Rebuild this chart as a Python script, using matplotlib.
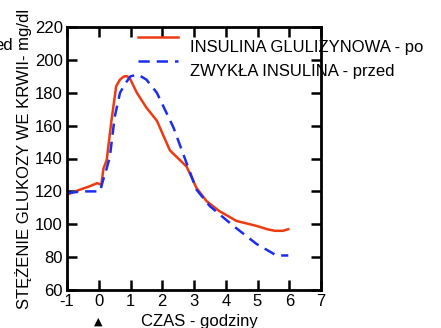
import matplotlib
matplotlib.use("Agg")
import matplotlib.pyplot as plt

plt.rcParams['font.family'] = ['Liberation Sans', 'DejaVu Sans']
plt.rcParams['axes.unicode_minus'] = False

# glucose curves (mg/dl) vs time (hours)
glulisine_t = [-1.0, -0.6, -0.3, -0.05, 0.08, 0.15, 0.25, 0.4, 0.55, 0.67, 0.8, 0.9, 1.0, 1.2, 1.5, 1.83, 2.24, 2.77, 3.08, 3.4, 3.8, 4.34, 4.97, 5.3, 5.55, 5.8, 5.97]
glulisine_y = [118, 121, 123, 125, 124, 134, 139, 163, 184, 188, 190, 190, 188, 180, 171, 163, 145, 135, 122, 114, 108, 102, 99, 97, 96, 96, 97]
regular_t = [-1.0, -0.5, -0.2, 0.04, 0.14, 0.25, 0.35, 0.5, 0.67, 0.85, 1.0, 1.24, 1.5, 1.83, 2.35, 2.77, 3.08, 3.5, 4.24, 4.97, 5.6, 5.97]
regular_y = [119, 120, 120, 120, 127, 134, 141, 165, 180, 186, 190, 191, 188, 180, 159, 137, 121, 111, 99, 88, 81, 81]

xticks = [-1, 0, 1, 2, 3, 4, 5, 6, 7]
yticks = [60, 80, 100, 120, 140, 160, 180, 200, 220]

fig = plt.figure(figsize=(4.41, 3.28), dpi=100)
ax = fig.add_axes([67/441, 1-290/328, (321-67)/441, (290-27)/328])

ax.plot(glulisine_t, glulisine_y, color='#ee3a10', lw=1.8,
        label='INSULINA GLULIZYNOWA - po')
ax.plot(regular_t, regular_y, color='#1a2ef0', lw=1.8, ls=(0, (4.5, 2.8)),
        label='ZWYKŁA INSULINA - przed')

ax.set_xlim(-1, 7)
ax.set_ylim(60, 220)
ax.set_xticks(xticks)
ax.set_yticks(yticks)
ax.tick_params(direction='in', length=7, width=1.8, top=True, right=True,
               labelsize=12, pad=3)
for s in ax.spines.values():
    s.set_linewidth(2)

ax.set_xlabel('CZAS - godziny', fontsize=12, labelpad=3.5)
ax.xaxis.label.set_x(0.52)
ax.set_ylabel('STĘŻENIE GLUKOZY WE KRWII- mg/dl', fontsize=12, labelpad=2)

fig.text(13/441, 1-45/328, 'ed', fontsize=12, ha='right', va='center')
fig.text(98/441, 1-322/328, '▲', fontsize=8, ha='center', va='center',
         family=['DejaVu Sans'])

leg = ax.legend(loc='upper left', bbox_to_anchor=(138/441, 1-31/328),
                bbox_transform=fig.transFigure, frameon=False, fontsize=12,
                handlelength=2.4, handletextpad=0.7, borderpad=0,
                borderaxespad=0, labelspacing=0.55)
# text sits a bit below its line sample in the original
for t in leg.get_texts():
    t.set_y(-9)

fig.savefig('out.png', dpi=100)
